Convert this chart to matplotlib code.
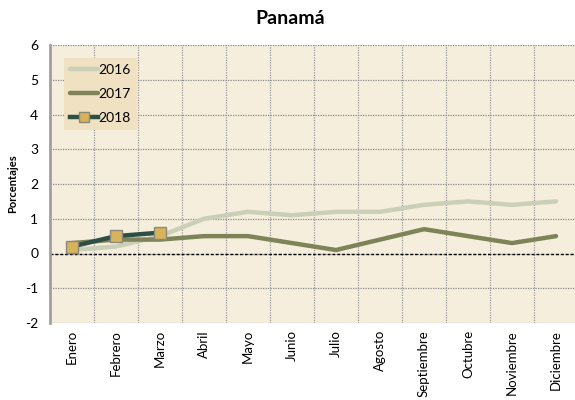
import matplotlib
matplotlib.use("Agg")
import matplotlib.pyplot as plt
import numpy as np

months = ["Enero", "Febrero", "Marzo", "Abril", "Mayo", "Junio", "Julio",
          "Agosto", "Septiembre", "Octubre", "Noviembre", "Diciembre"]
s2016 = [0.1, 0.2, 0.5, 1.0, 1.2, 1.1, 1.2, 1.2, 1.4, 1.5, 1.4, 1.5]
s2017 = [0.3, 0.4, 0.4, 0.5, 0.5, 0.3, 0.1, 0.4, 0.7, 0.5, 0.3, 0.5]
s2018 = [0.2, 0.5, 0.6]
yticks = [-2, -1, 0, 1, 2, 3, 4, 5, 6]

plt.rcParams['font.family'] = ['Lato', 'DejaVu Sans']

W, H = 575, 400
fig = plt.figure(figsize=(W / 100, H / 100), dpi=100)
ax = fig.add_axes([50 / W, 1 - 323 / H, 528 / W, 278 / H])
ax.set_facecolor('#F5EEDD')

x = np.arange(len(months))
ax.plot(x, s2016, color='#C9D0B7', lw=3.2, label='2016', solid_capstyle='round', zorder=3)
ax.plot(x, s2017, color='#7E8458', lw=3.2, label='2017', solid_capstyle='round', zorder=4)
ax.plot(x[:len(s2018)], s2018, color='#2E4F45', lw=3.2, label='2018', marker='s',
        markersize=8.5, markerfacecolor='#D9B35C', markeredgecolor='#8A8A7A',
        markeredgewidth=1, zorder=5)

ax.set_xlim(-0.5, len(months) - 0.5)
ax.set_ylim(-2, 6)
ax.set_yticks(yticks)
ax.set_yticklabels([str(v) for v in yticks], fontsize=10)
ax.set_xticks(x)
ax.set_xticklabels(months, rotation=90, fontsize=9.5, va='top', ha='center')
ax.set_xticks(np.arange(len(months) + 1) - 0.5, minor=True)
ax.tick_params(axis='x', which='both', length=0, pad=5)
ax.tick_params(axis='y', length=0, pad=8.5)

ax.grid(False)
ax.xaxis.grid(True, which='minor', color='#9A9A9A', ls=(0, (1, 1)), lw=0.9)
ax.yaxis.grid(True, which='major', color='#8A8A8A', ls=(0, (1, 1)), lw=0.9)
ax.set_axisbelow(True)
ax.axhline(0, color='black', ls=(0, (2, 1.5)), lw=1, zorder=2)

for s in ['top', 'right', 'bottom']:
    ax.spines[s].set_visible(False)
ax.spines['left'].set_color('#A0A0A0')
ax.spines['left'].set_linewidth(2)

ax.set_ylabel('Porcentajes', fontsize=8, fontweight='bold', labelpad=5)
fig.text(290 / W, 1 - 18 / H, 'Panamá', ha='center', va='center',
         fontsize=14, fontweight='bold')

leg = ax.legend(loc='upper left', bbox_to_anchor=(64 / W, 1 - 58 / H),
                bbox_transform=fig.transFigure, borderaxespad=0,
                frameon=True, fancybox=False, fontsize=10, handlelength=2.0,
                handletextpad=0.0, labelspacing=0.85, borderpad=0.45,
                markerscale=0.85)
leg.get_frame().set_facecolor('#EFE1C1')
leg.get_frame().set_edgecolor('none')
leg.get_frame().set_alpha(1)

fig.savefig('out.png', dpi=100)
